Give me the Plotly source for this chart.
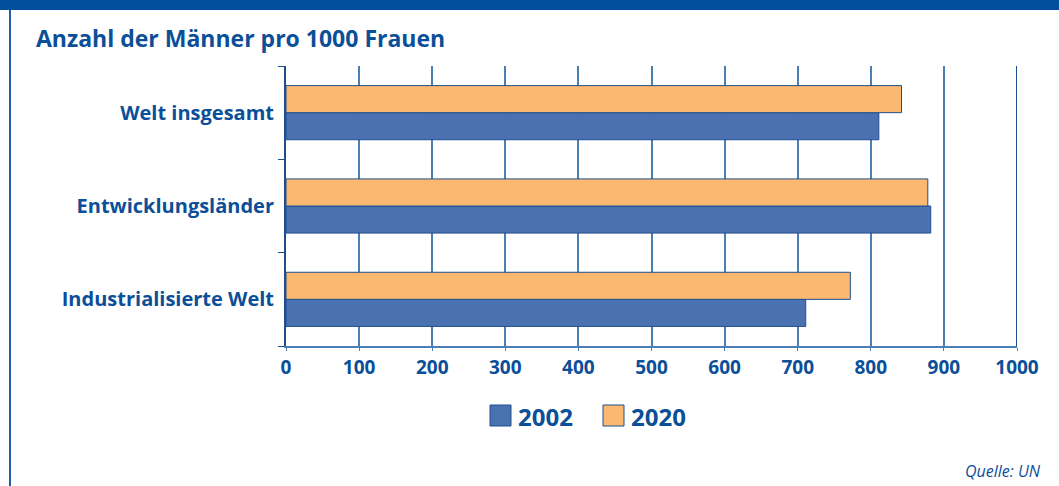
import plotly.graph_objects as go

# categories listed bottom to top
regions = ['Industrialisierte Welt', 'Entwicklungsländer', 'Welt insgesamt']
years = ['2002', '2020']
men_2002 = [711, 882, 811]
men_2020 = [772, 878, 842]
x_ticks = [0, 100, 200, 300, 400, 500, 600, 700, 800, 900, 1000]

bar_colors = ['#4a72b0', '#fbb870']
edge_blue = '#1f4e8f'
text_blue = '#0b4f98'
line_blue = '#4a7fb5'
font = 'Open Sans'

fig = go.Figure()
for name, vals, col in zip(years, [men_2002, men_2020], bar_colors):
    fig.add_trace(go.Bar(y=regions, x=vals, orientation='h', name=name, showlegend=False,
                         marker=dict(color=col, line=dict(color=edge_blue, width=1))))

# plot area: x 286..1017 px, y 66..346 px
W, H = 1059, 486
L, R, T, B = 286, 1017, 66, 346
pw, ph = R - L, B - T


def px_x(p):
    return (p - L) / pw


def px_y(p):
    return (B - p) / ph


fig.update_layout(
    width=W, height=H,
    margin=dict(l=L, r=W - R, t=T, b=H - B),
    paper_bgcolor='white', plot_bgcolor='white',
    barmode='group', bargap=0.42, bargroupgap=0,
    font=dict(family=font, color=text_blue),
    xaxis=dict(range=[0, 1000], tickvals=x_ticks, showgrid=True, gridcolor=line_blue, gridwidth=2,
               ticks='outside', ticklen=3, tickcolor=line_blue,
               showline=True, linecolor=line_blue, linewidth=2,
               tickfont=dict(size=19, color=text_blue, weight='bold'), zeroline=False),
    yaxis=dict(showline=True, linecolor=edge_blue, linewidth=2, ticks='outside', ticklen=6,
               tickson='boundaries', tickcolor=edge_blue, showgrid=False,
               tickfont=dict(size=20, color=text_blue, weight='bold'), ticklabelstandoff=6),
)

# frame: blue band on top and thin line on the left
fig.add_shape(type='rect', xref='paper', yref='paper', x0=px_x(0), x1=px_x(W), y0=px_y(10), y1=px_y(0),
              fillcolor='#00509d', line=dict(width=0), layer='below')
fig.add_shape(type='line', xref='paper', yref='paper', x0=px_x(10), x1=px_x(10), y0=px_y(H), y1=px_y(10),
              line=dict(color='#1f5fa8', width=2))
# 1000 line darker
fig.add_shape(type='line', xref='x', yref='paper', x0=1000, x1=1000, y0=0, y1=1,
              line=dict(color=edge_blue, width=2))

# legend drawn by hand (large squares)
for name, col, sx in zip(years, bar_colors, [490, 603]):
    fig.add_shape(type='rect', xref='paper', yref='paper', x0=px_x(sx), x1=px_x(sx + 21),
                  y0=px_y(426), y1=px_y(405), fillcolor=col, line=dict(color=edge_blue, width=1))
    fig.add_annotation(text=name, xref='paper', yref='paper', x=px_x(sx + 26), y=px_y(416),
                       xanchor='left', yanchor='middle', showarrow=False,
                       font=dict(size=24, color=text_blue, weight='bold'))

fig.add_annotation(text='Anzahl der Männer pro 1000 Frauen', xref='paper', yref='paper',
                   x=px_x(34), y=px_y(38), xanchor='left', yanchor='middle', showarrow=False,
                   font=dict(size=23, color=text_blue, weight='bold'))
fig.add_annotation(text='<i>Quelle: UN</i>', xref='paper', yref='paper',
                   x=px_x(1043), y=px_y(471), xanchor='right', yanchor='middle', showarrow=False,
                   font=dict(size=16, color=text_blue, family='Liberation Sans Narrow, ' + font))

fig.write_html('out.html', config={'displayModeBar': False},
               post_script="document.body.style.margin='0px';")
